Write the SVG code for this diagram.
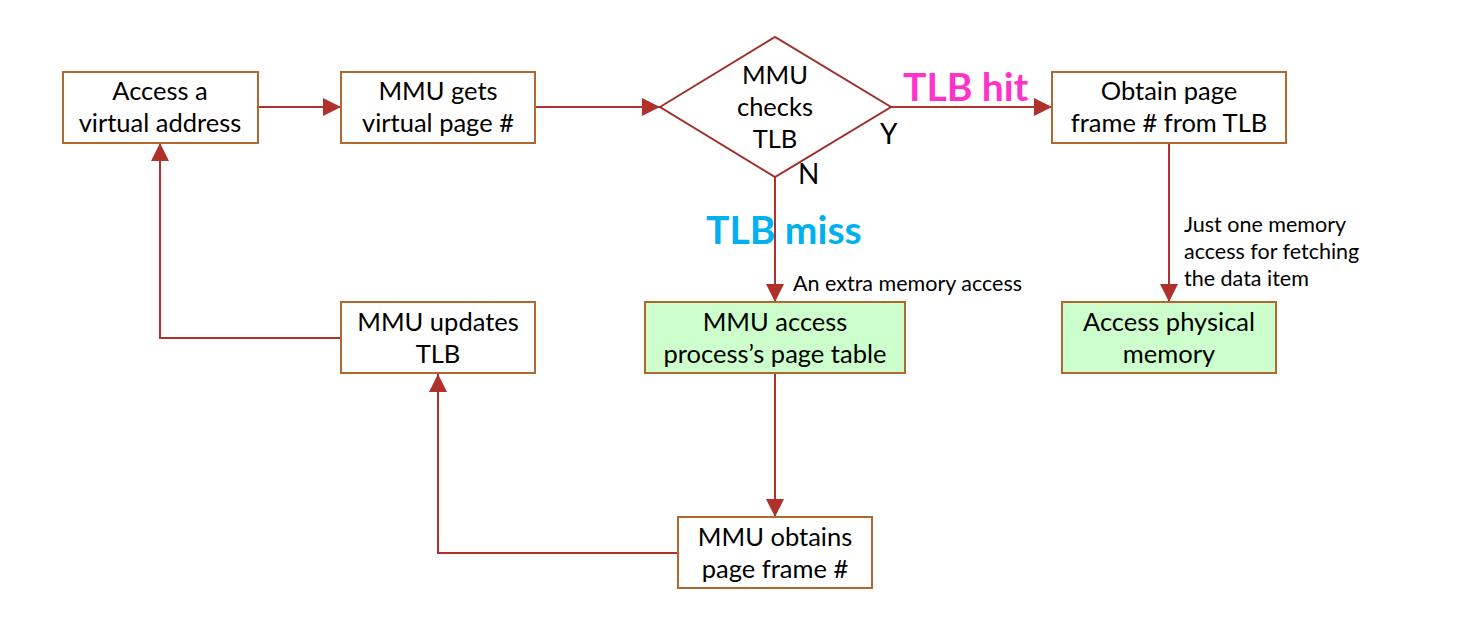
<svg xmlns="http://www.w3.org/2000/svg" width="1471" height="634" viewBox="0 0 1471 634">
<style>
.box{fill:#fff;stroke:#B0682E;stroke-width:2}
.g{fill:#CCFFCC}
.t{font-family:Lato,"Liberation Sans",sans-serif;font-size:25.5px;fill:#000;text-anchor:middle}
.s{font-family:Lato,"Liberation Sans",sans-serif;font-size:21.5px;fill:#000}
.c{fill:none;stroke:#B0302C;stroke-width:2}
.big{font-family:Lato,"Liberation Sans",sans-serif;font-size:39px;font-weight:bold}
</style>
<defs>
<marker id="ah" markerWidth="18" markerHeight="18" refX="18" refY="9" orient="auto" markerUnits="userSpaceOnUse">
<path d="M0,0 L18,9 L0,18 Z" fill="#B0302C"/>
</marker>
</defs>
<rect width="1471" height="634" fill="#fff"/>
<g id="connectors">
<path class="c" d="M258,107 H341" marker-end="url(#ah)"/>
<path class="c" d="M535,107 H660" marker-end="url(#ah)"/>
<path class="c" d="M891,107 H1052" marker-end="url(#ah)"/>
<path class="c" d="M775,177 V302" marker-end="url(#ah)"/>
<path class="c" d="M1169,143 V302" marker-end="url(#ah)"/>
<path class="c" d="M775,373 V517" marker-end="url(#ah)"/>
<path class="c" d="M678,553 H438 V374" marker-end="url(#ah)"/>
<path class="c" d="M341,338 H160 V143" marker-end="url(#ah)"/>
</g>
<g id="n1"><rect class="box" x="63" y="72" width="195" height="71"/><text class="t" x="160" y="100">Access a</text><text class="t" x="160" y="132">virtual address</text></g>
<g id="n2"><rect class="box" x="341" y="72" width="194" height="71"/><text class="t" x="438" y="100">MMU gets</text><text class="t" x="438" y="132">virtual page #</text></g>
<g id="n3"><path d="M660,107 L775,37 L891,107 L775,177 Z" fill="#fff" stroke="#A0302C" stroke-width="2"/><text class="t" x="775" y="84">MMU</text><text class="t" x="775" y="116">checks</text><text class="t" x="775" y="148">TLB</text></g>
<g id="n4"><rect class="box" x="1052" y="72" width="234" height="71"/><text class="t" x="1169" y="100">Obtain page</text><text class="t" x="1169" y="132">frame # from TLB</text></g>
<g id="n5"><rect class="box g" x="1062" y="302" width="214" height="71"/><text class="t" x="1169" y="331">Access physical</text><text class="t" x="1169" y="363">memory</text></g>
<g id="n6"><rect class="box g" x="645" y="302" width="260" height="71"/><text class="t" x="775" y="331">MMU access</text><text class="t" x="775" y="363">process’s page table</text></g>
<g id="n7"><rect class="box" x="678" y="517" width="194" height="71"/><text class="t" x="775" y="546">MMU obtains</text><text class="t" x="775" y="578">page frame #</text></g>
<g id="n8"><rect class="box" x="341" y="302" width="194" height="71"/><text class="t" x="438" y="331">MMU updates</text><text class="t" x="438" y="363">TLB</text></g>
<g id="labels">
<text class="big" x="903" y="101" fill="#FF33CC">TLB hit</text>
<text class="big" x="706" y="244" fill="#00B0F0">TLB miss</text>
<text x="880" y="144" style="font-family:Lato,'Liberation Sans',sans-serif;font-size:28px">Y</text>
<text x="798" y="184" style="font-family:Lato,'Liberation Sans',sans-serif;font-size:28px">N</text>
<text class="s" x="793" y="291">An extra memory access</text>
<text class="s" x="1184" y="232">Just one memory</text>
<text class="s" x="1184" y="259">access for fetching</text>
<text class="s" x="1184" y="286">the data item</text>
</g>
</svg>
